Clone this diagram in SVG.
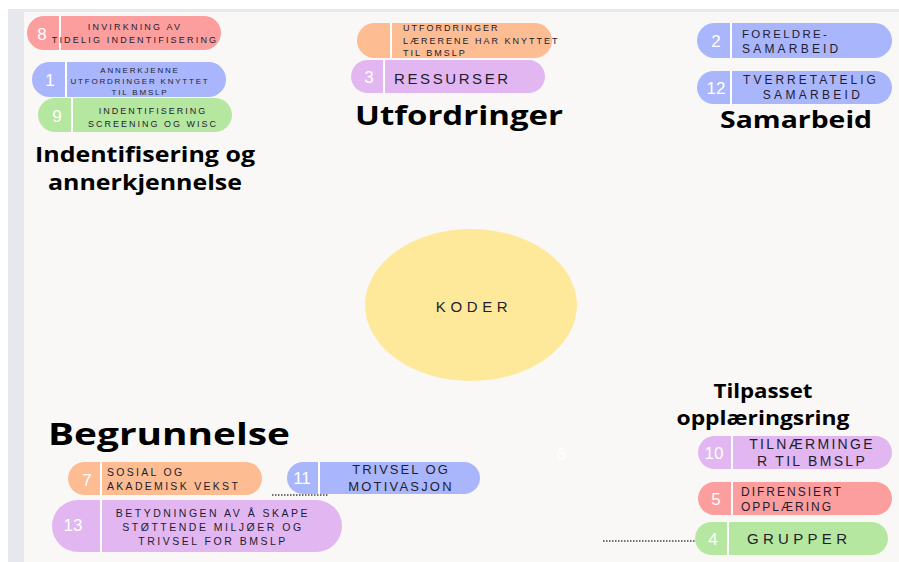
<svg xmlns="http://www.w3.org/2000/svg" width="899" height="562" viewBox="0 0 899 562">
<style>
.num{font-family:"Liberation Sans",Arial,sans-serif;fill:#ffffff;font-size:17px;text-anchor:middle}
.lab{font-family:"Liberation Sans",Arial,sans-serif;fill:#231d2e}
.head{font-family:"Open Sans","Noto Sans",sans-serif;font-weight:700;fill:#000000;text-anchor:middle}
.div{stroke:#ffffff;stroke-width:2}
.red{fill:#fc9e9e}.blue{fill:#a9b6fc}.green{fill:#b6e7a0}.orange{fill:#fdbc92}.purple{fill:#e2b7f1}
.dot{stroke:#444444;stroke-width:1.5;stroke-dasharray:1.5 1.5;fill:none}
</style>
<rect x="0" y="0" width="899" height="562" fill="#ffffff"/>
<rect x="8" y="9" width="891" height="553" fill="#e7e8ee"/>
<rect x="24" y="12" width="875" height="550" fill="#f9f8f7"/>

<g id="connectors">
<line class="dot" x1="272" y1="495" x2="328" y2="495"/>
<line class="dot" x1="603" y1="541" x2="695" y2="541"/>
</g>

<g id="pill8">
<rect class="red" x="27" y="16" width="194" height="34" rx="17"/>
<line class="div" x1="60" y1="16" x2="60" y2="50"/>
<text class="num" x="42" y="40">8</text>
<text class="lab" font-size="9" letter-spacing="2.2" text-anchor="middle" x="135" y="30">INVIRKNING AV</text>
<text class="lab" font-size="9" letter-spacing="2.2" text-anchor="middle" x="135" y="43">TIDELIG INDENTIFISERING</text>
</g>
<g id="pill1">
<rect class="blue" x="32" y="62" width="194" height="35" rx="17.5"/>
<line class="div" x1="66" y1="62" x2="66" y2="97"/>
<text class="num" x="50" y="86">1</text>
<text class="lab" font-size="8" letter-spacing="1.8" text-anchor="middle" x="140" y="73">ANNERKJENNE</text>
<text class="lab" font-size="8" letter-spacing="1.8" text-anchor="middle" x="140" y="84">UTFORDRINGER KNYTTET</text>
<text class="lab" font-size="8" letter-spacing="1.8" text-anchor="middle" x="140" y="95">TIL BMSLP</text>
</g>
<g id="pill9">
<rect class="green" x="38" y="98" width="194" height="34" rx="17"/>
<line class="div" x1="72" y1="98" x2="72" y2="132"/>
<text class="num" x="57" y="122">9</text>
<text class="lab" font-size="9" letter-spacing="2" text-anchor="middle" x="153" y="114">INDENTIFISERING</text>
<text class="lab" font-size="9" letter-spacing="2" text-anchor="middle" x="153" y="127">SCREENING OG WISC</text>
</g>
<g id="heading-identifisering">
<text class="head" font-size="22" x="145" y="162" textLength="220" lengthAdjust="spacingAndGlyphs">Indentifisering og</text>
<text class="head" font-size="22" x="145" y="190" textLength="194" lengthAdjust="spacingAndGlyphs">annerkjennelse</text>
</g>

<g id="pill-utfordringer-laerere">
<rect class="orange" x="357" y="23" width="195" height="35" rx="17.5"/>
<line class="div" x1="391" y1="23" x2="391" y2="58"/>
<text class="lab" font-size="9" letter-spacing="2" x="403" y="31">UTFORDRINGER</text>
<text class="lab" font-size="9" letter-spacing="2" x="403" y="44">LÆRERENE HAR KNYTTET</text>
<text class="lab" font-size="9" letter-spacing="2" x="403" y="56">TIL BMSLP</text>
</g>
<g id="pill3">
<rect class="purple" x="351" y="60" width="194" height="33" rx="16.5"/>
<line class="div" x1="384" y1="60" x2="384" y2="93"/>
<text class="num" x="369" y="83">3</text>
<text class="lab" font-size="15" letter-spacing="2.6" x="394" y="84">RESSURSER</text>
</g>
<g id="heading-utfordringer">
<text class="head" font-size="27" x="459" y="125" textLength="208" lengthAdjust="spacingAndGlyphs">Utfordringer</text>
</g>

<g id="pill2">
<rect class="blue" x="697" y="23" width="195" height="35" rx="17.5"/>
<line class="div" x1="731" y1="23" x2="731" y2="58"/>
<text class="num" x="716" y="47">2</text>
<text class="lab" font-size="11.5" letter-spacing="2.3" x="742" y="38">FORELDRE-</text>
<text class="lab" font-size="12" letter-spacing="3.2" x="742" y="53">SAMARBEID</text>
</g>
<g id="pill12">
<rect class="blue" x="697" y="71" width="195" height="33" rx="16.5"/>
<line class="div" x1="731" y1="71" x2="731" y2="104"/>
<text class="num" x="716" y="94">12</text>
<text class="lab" font-size="12" letter-spacing="3" text-anchor="middle" x="811" y="84">TVERRETATELIG</text>
<text class="lab" font-size="12" letter-spacing="3.3" text-anchor="middle" x="813" y="99">SAMARBEID</text>
</g>
<g id="heading-samarbeid">
<text class="head" font-size="23" x="796" y="128" textLength="152" lengthAdjust="spacingAndGlyphs">Samarbeid</text>
</g>

<g id="koder">
<ellipse cx="471" cy="305" rx="106" ry="76" fill="#fee99b"/>
<text class="lab" font-size="15" letter-spacing="4.6" text-anchor="middle" x="474" y="312">KODER</text>
</g>

<g id="heading-begrunnelse">
<text class="head" font-size="31" x="169" y="445" textLength="242" lengthAdjust="spacingAndGlyphs">Begrunnelse</text>
</g>
<g id="pill7">
<rect class="orange" x="68" y="462" width="194" height="33" rx="16.5"/>
<line class="div" x1="101" y1="462" x2="101" y2="495"/>
<text class="num" x="87" y="486">7</text>
<text class="lab" font-size="10.5" letter-spacing="2.3" x="107" y="476">SOSIAL OG</text>
<text class="lab" font-size="10.5" letter-spacing="2.3" x="107" y="490">AKADEMISK VEKST</text>
</g>
<g id="pill11">
<rect class="blue" x="287" y="462" width="193" height="32" rx="16"/>
<line class="div" x1="319" y1="462" x2="319" y2="494"/>
<text class="num" x="302" y="484">11</text>
<text class="lab" font-size="13" letter-spacing="2" text-anchor="middle" x="401" y="474">TRIVSEL OG</text>
<text class="lab" font-size="13" letter-spacing="2.2" text-anchor="middle" x="401" y="491">MOTIVASJON</text>
</g>
<g id="pill13">
<rect class="purple" x="52" y="500" width="290" height="52" rx="26"/>
<line class="div" x1="101" y1="500" x2="101" y2="552"/>
<text class="num" x="73" y="531">13</text>
<text class="lab" font-size="10.5" letter-spacing="2.5" text-anchor="middle" x="213" y="517">BETYDNINGEN AV Å SKAPE</text>
<text class="lab" font-size="10.5" letter-spacing="2.5" text-anchor="middle" x="213" y="531">STØTTENDE MILJØER OG</text>
<text class="lab" font-size="10.5" letter-spacing="2.5" text-anchor="middle" x="213" y="545">TRIVSEL FOR BMSLP</text>
</g>

<g id="heading-tilpasset">
<text class="head" font-size="20" x="763" y="398" textLength="99" lengthAdjust="spacingAndGlyphs">Tilpasset</text>
<text class="head" font-size="20" x="763" y="425" textLength="173" lengthAdjust="spacingAndGlyphs">opplæringsring</text>
</g>
<g id="pill10">
<rect class="purple" x="698" y="436" width="194" height="33" rx="16.5"/>
<line class="div" x1="732" y1="436" x2="732" y2="469"/>
<text class="num" x="714" y="459">10</text>
<text class="lab" font-size="14" letter-spacing="2.3" text-anchor="middle" x="812" y="449">TILNÆRMINGE</text>
<text class="lab" font-size="14" letter-spacing="2.3" text-anchor="middle" x="812" y="466">R TIL BMSLP</text>
</g>
<g id="pill5">
<rect class="red" x="698" y="482" width="194" height="33" rx="16.5"/>
<line class="div" x1="732" y1="482" x2="732" y2="515"/>
<text class="num" x="716" y="505">5</text>
<text class="lab" font-size="12" letter-spacing="2" x="741" y="496">DIFRENSIERT</text>
<text class="lab" font-size="12" letter-spacing="2" x="741" y="511">OPPLÆRING</text>
</g>
<g id="pill4">
<rect class="green" x="695" y="522" width="193" height="33" rx="16.5"/>
<line class="div" x1="728" y1="522" x2="728" y2="555"/>
<text class="num" x="713" y="545">4</text>
<text class="lab" font-size="15" letter-spacing="4.3" x="747" y="544">GRUPPER</text>
</g>

<g id="faint-6">
<text class="num" x="561" y="460" font-size="14">6</text>
</g>
</svg>
